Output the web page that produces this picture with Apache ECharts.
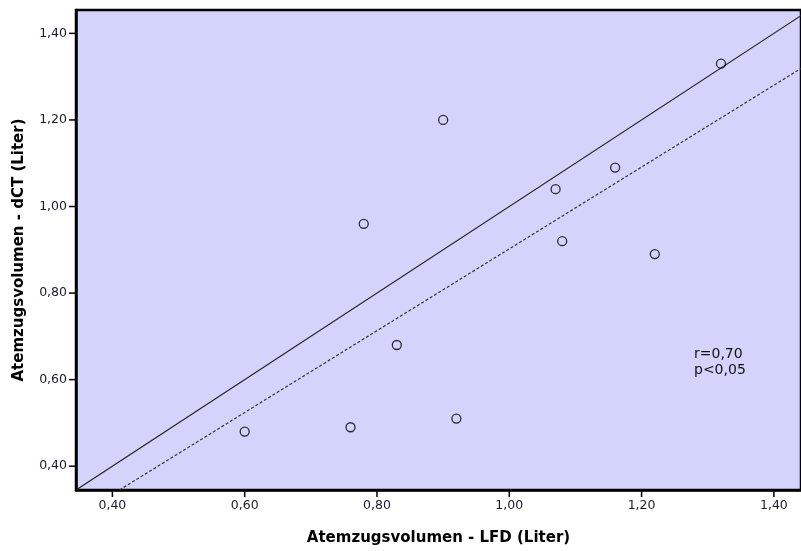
<!DOCTYPE html>
<html><head><meta charset="utf-8">
<script src="https://cdn.jsdelivr.net/npm/echarts@6/dist/echarts.min.js"></script>
<style>html,body{margin:0;padding:0;background:#fff}#c{width:801px;height:551px}</style>
</head><body><div id="c"></div>
<script>
const lfd = [0.60, 0.76, 0.78, 0.83, 0.90, 0.92, 1.07, 1.08, 1.16, 1.22, 1.32];
const dct = [0.48, 0.49, 0.96, 0.68, 1.20, 0.51, 1.04, 0.92, 1.09, 0.89, 1.33];
const identityLine = [[0.345, 0.345], [1.455, 1.455]];
const fitLine = [[0.4106, 0.345], [1.441, 1.319]];
const tickValues = [0.40, 0.60, 0.80, 1.00, 1.20, 1.40];
const xRange = [0.345, 1.441];
const yRange = [0.345, 1.454];
const xTitle = 'Atemzugsvolumen - LFD (Liter)';
const yTitle = 'Atemzugsvolumen - dCT (Liter)';
const statsText = 'r=0,70\np<0,05';

const chart = echarts.init(document.getElementById('c'), null, {renderer: 'canvas'});
const fmt = v => v.toFixed(2).replace('.', ',');
function axis(extra) {
  return Object.assign({
    type: 'value',
    axisLine: {show: true, onZero: false, lineStyle: {color: '#000', width: 2.5}},
    axisTick: {show: false},
    splitLine: {show: false},
    axisLabel: {show: true, color: '#1a1a2e', fontFamily: 'DejaVu Sans', fontSize: 12.5, margin: 9,
      customValues: tickValues, formatter: v => fmt(v)},
    nameLocation: 'middle',
    nameTextStyle: {fontFamily: 'DejaVu Sans', fontWeight: 'bold', fontSize: 15, color: '#000'}
  }, extra);
}
function yTickSeries() {
  return {
    type: 'custom', silent: true, z: 10, clip: false,
    encode: {x: 0, y: 1},
    data: tickValues.map(v => [xRange[0], v]),
    renderItem: function (params, api) {
      const p = api.coord([api.value(0), api.value(1)]);
      return {type: 'rect', shape: {x: p[0] - 7, y: p[1] - 0.75, width: 6, height: 1.5}, style: {fill: '#000'}};
    }
  };
}
chart.setOption({
  animation: false,
  grid: {left: 76, right: 0, top: 10, bottom: 60, show: true, backgroundColor: '#D3D3FB',
    borderColor: '#000', borderWidth: 2.5},
  xAxis: axis({min: xRange[0], max: xRange[1], name: xTitle, nameGap: 41}),
  yAxis: axis({min: yRange[0], max: yRange[1], name: yTitle, nameGap: 49}),
  series: [
    {type: 'line', data: identityLine, symbol: 'none', clip: true,
      lineStyle: {color: '#222', width: 1.2}, z: 2},
    {type: 'line', data: fitLine, symbol: 'none', clip: true,
      lineStyle: {color: '#333', width: 1.2, type: [3, 2]}, z: 2},
    {type: 'scatter', data: lfd.map((x, i) => [x, dct[i]]), symbol: 'circle', symbolSize: 9,
      itemStyle: {color: 'rgba(0,0,0,0)', borderColor: '#000', borderWidth: 1.3}, z: 3},
    yTickSeries()
  ],
  graphic: [{type: 'text', left: 694, top: 346,
    style: {text: statsText, font: '14px "DejaVu Sans"', fill: '#111', lineHeight: 16}}]
});
// x-axis tick marks placed through the library's own scale
const xTickGraphics = tickValues.map(v => {
  const p = chart.convertToPixel({gridIndex: 0}, [v, yRange[0]]);
  return {type: 'rect', z: 100, silent: true,
    shape: {x: p[0] - 0.75, y: p[1] + 1, width: 1.5, height: 6}, style: {fill: '#000'}};
});
chart.setOption({graphic: [{type: 'text', left: 694, top: 346,
    style: {text: statsText, font: '14px "DejaVu Sans"', fill: '#111', lineHeight: 16}}].concat(xTickGraphics)});
</script></body></html>
